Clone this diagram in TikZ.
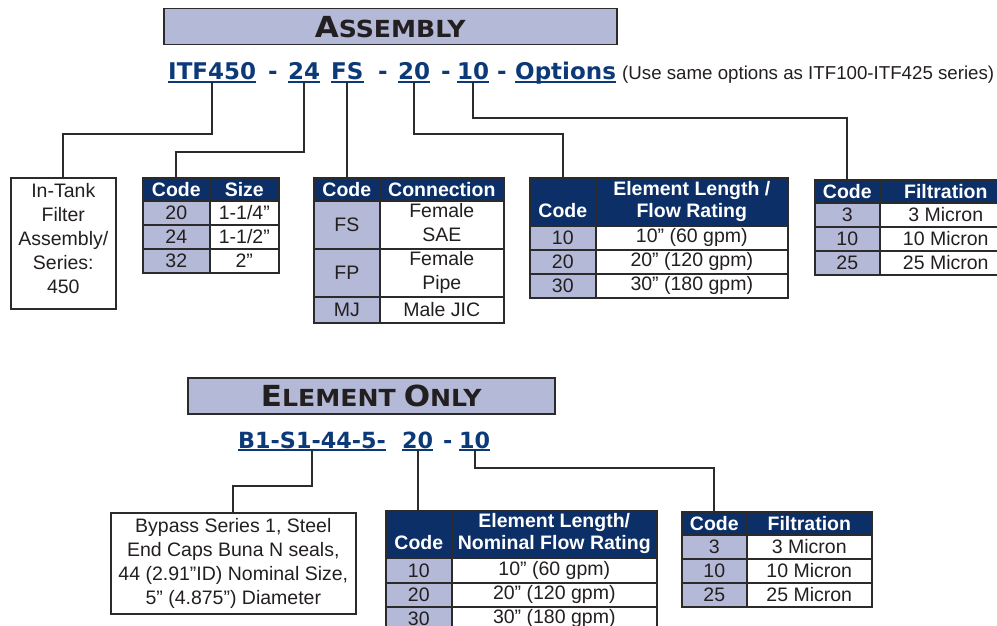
\documentclass[tikz,border=0pt]{standalone}
\usepackage{fontspec}
\usepackage{graphicx}
\setmainfont{Liberation Sans}
\newfontfamily\partfont{DejaVu Sans}
\usetikzlibrary{matrix, positioning, calc}

\definecolor{navy}{HTML}{0B2F66}
\definecolor{lavender}{HTML}{B3B9D6}
\definecolor{partblue}{HTML}{0C3A78}
\definecolor{linegray}{HTML}{2B2B2B}
\definecolor{inkgray}{HTML}{231F20}

\newcommand{\cellsize}{\fontsize{19.5}{24}\selectfont}
\newcommand{\headsize}{\fontsize{19.5}{22}\selectfont\bfseries}
\newcommand{\titlecaps}[2]{{\fontsize{29}{29}\selectfont #1}{\fontsize{23.5}{29}\selectfont #2}}
\newcommand{\twoline}[2]{\begin{tabular}{@{}c@{}}#1\\#2\end{tabular}}

\tikzset{
  titlebox/.style={draw=linegray, line width=1.5pt, fill=lavender, anchor=north west,
    inner sep=0pt, text=inkgray, font=\partfont\bfseries},
  partno/.style={anchor=base west, inner sep=0pt, text depth=2pt, text=partblue,
    font=\partfont\bfseries\fontsize{23}{23}\selectfont},
  partnob/.style={partno, font=\partfont\bfseries\fontsize{22.3}{23}\selectfont},
  uline/.style={draw=partblue, line width=1.8pt},
  conn/.style={draw=linegray, line width=2pt},
  infobox/.style={draw=linegray, line width=1.6pt, anchor=north west, align=center,
    inner sep=0pt, text=inkgray, font=\cellsize},
  tbl/.style={matrix of nodes, anchor=north west, inner sep=0pt, outer sep=0pt,
    row sep=-1.6pt, column sep=-1.6pt,
    nodes={draw=linegray, line width=1.6pt, outer sep=0pt, inner xsep=1pt, inner ysep=0pt,
      anchor=center, font=\cellsize, minimum height=24pt}},
  codecell/.style={fill=lavender, text=inkgray},
  valcell/.style={fill=white, text=inkgray},
  headcell/.style={fill=navy, text=white, font=\headsize}
}

\begin{document}
\begin{tikzpicture}[x=1pt, y=-1pt]
    \useasboundingbox (0,0) rectangle (997,626);

    % assembly part number
    \node[titlebox, minimum width=453pt, minimum height=36pt] (asmTitle) at (163,8)
        {\scalebox{1.07}[1]{\titlecaps{A}{SSEMBLY}}};

    \node[partno] (pITF) at (168,80) {ITF450};
    \node[partno] (d1) at (268,80) {-};
    \node[partno] (p24) at (288,80) {24};
    \node[partno] (pFS) at (331,80) {FS};
    \node[partno] (d2) at (378,80) {-};
    \node[partno] (p20) at (398,80) {20};
    \node[partno] (d3) at (441,80) {-};
    \node[partno] (p10) at (457,80) {10};
    \node[partno] (d4) at (497,80) {-};
    \node[partno] (pOpt) at (515,80) {Options};
    \node[anchor=base west, inner sep=0pt, text=inkgray, font=\fontsize{18.7}{20}\selectfont] (note) at (622,80) {(Use same options as ITF100-ITF425 series)};

    \node[infobox, minimum width=105pt, minimum height=131pt] (inTank) at (10,177)
        {In-Tank\\Filter\\Assembly/\\Series:\\450\\[-14pt]};

    \matrix[tbl, column 1/.style={nodes={codecell, minimum width=67pt}},
        column 2/.style={nodes={valcell, minimum width=69pt}},
        row 1/.style={nodes={headcell, minimum height=23pt}}] (sizeTab) at (142,177) {
        Code & Size \\
        20 & 1-1/4” \\
        24 & 1-1/2” \\
        32 & 2” \\
    };

    \matrix[tbl, column 1/.style={nodes={codecell, minimum width=66pt}},
        column 2/.style={nodes={valcell, minimum width=124pt}},
        row 1/.style={nodes={headcell, minimum height=23pt}},
        row 2/.style={nodes={minimum height=48pt}},
        row 3/.style={nodes={minimum height=48pt}},
        row 4/.style={nodes={minimum height=26pt}}] (connTab) at (313,177) {
        Code & Connection \\
        FS & \twoline{Female}{SAE} \\
        FP & \twoline{Female}{Pipe} \\
        MJ & Male JIC \\
    };

    \matrix[tbl, column 1/.style={nodes={codecell, minimum width=66pt}},
        column 2/.style={nodes={valcell, minimum width=192pt}},
        row 1/.style={nodes={headcell, minimum height=48pt}}] (elemTab) at (529,177) {
        \twoline{}{Code} & \twoline{Element Length /}{Flow Rating} \\
        10 & 10” (60 gpm) \\
        20 & 20” (120 gpm) \\
        30 & 30” (180 gpm) \\
    };

    \matrix[tbl, column 1/.style={nodes={codecell, minimum width=65pt}},
        column 2/.style={nodes={valcell, minimum width=132pt}},
        row 1/.style={nodes={headcell, minimum height=23pt}}] (filtTab) at (814,179) {
        Code & Filtration \\
        3 & 3 Micron \\
        10 & 10 Micron \\
        25 & 25 Micron \\
    };

    % element only part number
    \node[titlebox, minimum width=367pt, minimum height=36pt] (elemTitle) at (187,377)
        {\scalebox{1.07}[1]{\titlecaps{E}{LEMENT}\hspace{4pt} \titlecaps{O}{NLY}}};

    \node[partnob] (pB) at (238,448) {B1-S1-44-5-};
    \node[partnob] (p20b) at (402,448) {20};
    \node[partnob] (d5) at (443,448) {-};
    \node[partnob] (p10b) at (459,448) {10};

    \node[infobox, minimum width=245pt, minimum height=101pt] (bypass) at (110,512)
        {Bypass Series 1, Steel\\End Caps Buna N seals,\\44 (2.91”ID) Nominal Size,\\5” (4.875”) Diameter};

    \matrix[tbl, column 1/.style={nodes={codecell, minimum width=66pt}},
        column 2/.style={nodes={valcell, minimum width=205pt}},
        row 1/.style={nodes={headcell, minimum height=47pt}},
        row 2/.style={nodes={minimum height=25pt}}] (elemTabB) at (385,510) {
        \twoline{}{Code} & \twoline{Element Length/}{Nominal Flow Rating} \\
        10 & 10” (60 gpm) \\
        20 & 20” (120 gpm) \\
        30 & 30” (180 gpm) \\
    };

    \matrix[tbl, column 1/.style={nodes={codecell, minimum width=65pt}},
        column 2/.style={nodes={valcell, minimum width=125pt}},
        row 1/.style={nodes={headcell, minimum height=23pt}}] (filtTabB) at (681,511) {
        Code & Filtration \\
        3 & 3 Micron \\
        10 & 10 Micron \\
        25 & 25 Micron \\
    };

    \foreach \p in {pITF, p24, pFS, p20, p10, pOpt, pB, p20b, p10b} {
        \draw[uline] (\p.south west) -- (\p.south east);
    };

    \draw[conn] (pITF.south) -- ++(0,52) -| (inTank.north);
    \draw[conn] (p24.south) -- ++(0,70) -| (sizeTab-1-1.north);
    \draw[conn] (pFS.south) -- (pFS.south |- connTab-1-1.north);
    \draw[conn] (p20.south) -- ++(0,52) -| (elemTab-1-1.north);
    \draw[conn] (p10.south) -- ++(0,36) -| (filtTab-1-1.north);

    \draw[conn] (pB.south) -- ++(0,36) -| (bypass.north);
    \draw[conn] (p20b.south) -- (p20b.south |- elemTabB-1-1.north);
    \draw[conn] (p10b.south) -- ++(0,18) -| (filtTabB-1-1.north);

\end{tikzpicture}
\end{document}
